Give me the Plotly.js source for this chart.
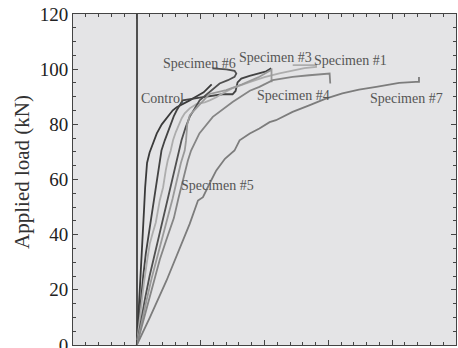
<!DOCTYPE html>
<html><head><meta charset="utf-8">
<script src="https://cdn.plot.ly/plotly-3.0.1.min.js"></script>
<style>html,body{margin:0;padding:0;background:#fff}#chart{width:458px;height:348px}</style>
</head><body><div id="chart"></div>
<script>
// Deflection (x, arbitrary units, major tick = 10) vs applied load (kN)
const controlX = [0,0.2,0.4,0.7,0.95,1.15,1.3,1.45,1.6,2.0,2.5,3.13,3.91,4.84,5.63,6.25,7.19,8.28,9.38,10.47,11.72];
const controlY = [0,8,20,32,42,50,57,62,66,69.8,73.1,76.7,80.0,82.9,85.1,86.2,87.3,88.7,90.2,91.6,94.5];

const s3X = [0,0.3,0.65,1.0,1.4,1.85,2.3,2.75,3.2,3.5,3.86,4.38,4.84,5.31,5.78,6.25,7.19,9.84,11.41,13.44,15.0,15.47,15.78,16.36,17.66,20.27,21.05];
const s3Y = [0,8,17,25,33,40,46,53,60,65,70.5,74.2,77.1,79.3,82.9,85.1,88.7,89.7,90.3,90.9,90.9,92.1,95.2,96.6,97.6,99.2,100.3];

const s1X = [0,0.31,0.63,1.09,1.56,2.03,2.5,2.97,3.59,4.11,4.53,4.84,5.31,5.67,6.09,6.56,7.03,7.5,8.28,9.33,10.63,11.41,12.45,13.48,15.0,17.66,20.0,22.34,24.38,26.25,28.08,28.08,24.42];
const s1Y = [0,6.9,14.2,22.2,29.8,36.7,40.7,44.4,52.4,57.1,63.3,66.9,70.5,74.2,77.1,79.6,82.2,84.0,85.8,87.3,88.0,88.7,89.8,91.3,93.1,95.3,97.1,98.5,99.5,100.4,100.8,101.5,101.5];

const s6X = [0,0.6,1.3,2.0,2.8,3.5,4.2,4.8,5.3,5.8,6.2,6.6,7.0,7.66,8.28,9.84,11.41,12.97,14.27,15.31,15.58,15.31,14.02,11.83];
const s6Y = [0,8,17,25,33,40,46,52,57,62,66,70,74.2,79.0,82.7,88.7,91.7,94.8,96.0,97.2,98.4,99.4,99.9,100.3];

const s5X = [0,0.7,1.5,2.3,3.1,3.9,4.9,5.6,6.2,6.9,7.5,7.7,7.9,8.3,9.5,10.4,11.4,14.0,16.5,19.0,21.1,21.1];
const s5Y = [0,8,16,24,31,38,46,53,59,66,70.5,74,80,83.3,86.3,88.7,91,92.4,94.5,97,99.8,95.3];

const s4X = [0,0.9,1.8,2.7,3.6,4.6,5.8,6.5,7.2,8.0,8.5,9.8,11.9,15.0,17.7,19.2,21.3,24.4,27.0,30.2,30.3];
const s4Y = [0,8,16,24,31,38,46,53,60,66.9,70.5,76.7,82.7,88.1,92.2,93.6,96,97.2,97.8,98.4,94.8];

const s7X = [0,2.03,4.64,6.72,8.28,9.58,10.36,11.5,12.45,13.8,15.3,16.1,17.7,19.2,20.8,21.8,24.4,27.0,29.6,32.2,34.8,37.5,41.1,43.7,44.2,44.2];
const s7Y = [0,9.9,23.3,35.4,43.9,52.4,53.6,59,63.3,67.5,70.5,74.2,76.7,78.5,80.8,81.5,84.5,86.9,89.3,91.2,92.6,93.6,95.0,95.4,95.4,97.2];

const labelText = ["Specimen #6","Specimen #3","Specimen #1","Control","Specimen #4","Specimen #7","Specimen #5"];
const labelX = [9.84,21.8,33.5,3.98,24.56,42.27,12.58];
const labelY = [102.2,104.1,103.0,89.3,90.5,89.3,57.8];

const series = [
  {x: controlX, y: controlY, color: '#3a3a3a'},
  {x: s3X, y: s3Y, color: '#434343'},
  {x: s1X, y: s1Y, color: '#adadad'},
  {x: s6X, y: s6Y, color: '#505050'},
  {x: s5X, y: s5Y, color: '#9a9a9a'},
  {x: s4X, y: s4Y, color: '#858585'},
  {x: s7X, y: s7Y, color: '#7c7c7c'}
];

const traces = series.map(s => ({
  x: s.x, y: s.y, type: 'scatter', mode: 'lines',
  line: {color: s.color, width: 1.8}, hoverinfo: 'skip', showlegend: false
}));

const serif = '"Liberation Serif", "Times New Roman", "DejaVu Serif", serif';

const annotations = labelText.map((t, i) => ({
  x: labelX[i], y: labelY[i], xref: 'x', yref: 'y', text: t, showarrow: false,
  font: {family: serif, size: 14, color: '#555'}
}));
annotations.push({
  xref: 'paper', yref: 'paper', x: -0.133, y: 0.523, xanchor: 'center', yanchor: 'middle',
  text: 'Applied load (kN)', textangle: -90, showarrow: false,
  font: {family: serif, size: 21, color: '#333'}
});

const layout = {
  width: 458, height: 348,
  margin: {l: 73, r: 2, t: 14, b: 3},
  paper_bgcolor: '#ffffff', plot_bgcolor: '#e4e4e6',
  showlegend: false,
  xaxis: {
    range: [-10, 50], dtick: 10, tick0: 0, showticklabels: false,
    ticks: 'inside', ticklen: 5, tickcolor: '#444', tickwidth: 1,
    minor: {dtick: 2, ticks: 'inside', ticklen: 3, tickcolor: '#444', tickwidth: 1},
    showgrid: false, zeroline: true, zerolinecolor: '#505050', zerolinewidth: 1.4,
    showline: true, linecolor: '#444', linewidth: 1, mirror: 'ticks'
  },
  yaxis: {
    range: [0, 120], dtick: 20, tick0: 0,
    ticks: 'inside', ticklen: 5, tickcolor: '#444', tickwidth: 1,
    minor: {dtick: 5, ticks: 'inside', ticklen: 3, tickcolor: '#444', tickwidth: 1},
    showgrid: false, zeroline: false,
    showline: true, linecolor: '#444', linewidth: 1, mirror: 'ticks',
    ticklabeloverflow: 'allow',
    tickfont: {family: serif, size: 19, color: '#222'}
  },
  annotations: annotations
};

Plotly.newPlot('chart', traces, layout, {staticPlot: true, displayModeBar: false});
</script></body></html>
